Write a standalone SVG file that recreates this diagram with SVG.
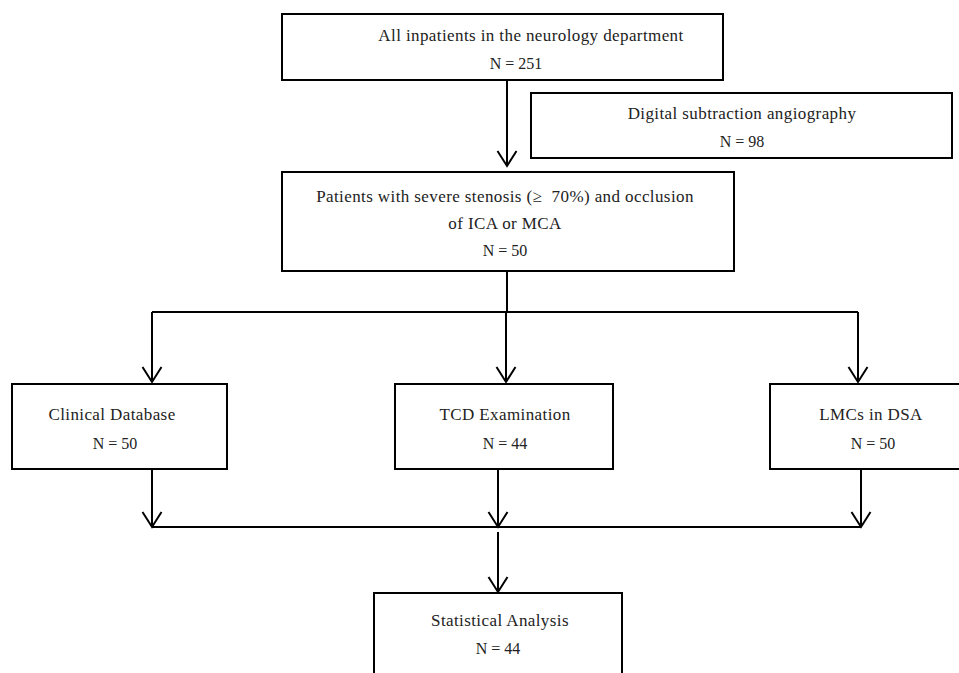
<svg xmlns="http://www.w3.org/2000/svg" width="959" height="673" viewBox="0 0 959 673">
<style>
.box{fill:#fff;stroke:#000;stroke-width:2}
.ln{fill:none;stroke:#000;stroke-width:2}
text{font-family:"Liberation Serif","DejaVu Serif",serif;font-size:17px;letter-spacing:0.4px;fill:#222;text-anchor:middle}
text.n{font-size:16px;letter-spacing:0}
</style>
<defs>
<marker id="ah" markerUnits="userSpaceOnUse" viewBox="-16 -11 18 22" refX="0" refY="0" markerWidth="18" markerHeight="22" orient="auto">
<path d="M-15,-9.5 L0,0 L-15,9.5" fill="none" stroke="#000" stroke-width="2"/>
</marker>
</defs>
<rect width="959" height="673" fill="#fff"/>
<g id="connectors">
<path class="ln" d="M507,80 V166" marker-end="url(#ah)"/>
<path class="ln" d="M507,271 V312"/>
<path class="ln" d="M152,312 H858"/>
<path class="ln" d="M152,312 V382" marker-end="url(#ah)"/>
<path class="ln" d="M506,312 V382" marker-end="url(#ah)"/>
<path class="ln" d="M858,312 V382" marker-end="url(#ah)"/>
<path class="ln" d="M152,469 V527" marker-end="url(#ah)"/>
<path class="ln" d="M498,469 V527" marker-end="url(#ah)"/>
<path class="ln" d="M861,469 V527" marker-end="url(#ah)"/>
<path class="ln" d="M152,527 H861"/>
<path class="ln" d="M498,532 V592" marker-end="url(#ah)"/>
</g>
<g id="n1">
<rect class="box" x="282" y="14" width="441" height="66"/>
<text x="531" y="41">All inpatients in the neurology department</text>
<text class="n" x="516" y="69">N = 251</text>
</g>
<g id="n2">
<rect class="box" x="531" y="93" width="421" height="65"/>
<text x="742" y="119">Digital subtraction angiography</text>
<text class="n" x="742" y="147">N = 98</text>
</g>
<g id="n3">
<rect class="box" x="282" y="172" width="452" height="99"/>
<text x="505" y="202">Patients with severe stenosis (≥&#160;&#160;70%) and occlusion</text>
<text x="505" y="229">of ICA or MCA</text>
<text class="n" x="505" y="256">N = 50</text>
</g>
<g id="n4">
<rect class="box" x="12" y="384" width="215" height="85"/>
<text x="112" y="420">Clinical Database</text>
<text class="n" x="115" y="449">N = 50</text>
</g>
<g id="n5">
<rect class="box" x="395" y="384" width="218" height="85"/>
<text x="505" y="420">TCD Examination</text>
<text class="n" x="505" y="449">N = 44</text>
</g>
<g id="n6">
<rect class="box" x="770" y="384" width="190" height="85"/>
<text x="871" y="420">LMCs in DSA</text>
<text class="n" x="873" y="449">N = 50</text>
</g>
<g id="n7">
<rect class="box" x="374" y="593" width="248" height="90"/>
<text x="500" y="626">Statistical Analysis</text>
<text class="n" x="498" y="654">N = 44</text>
</g>
</svg>
